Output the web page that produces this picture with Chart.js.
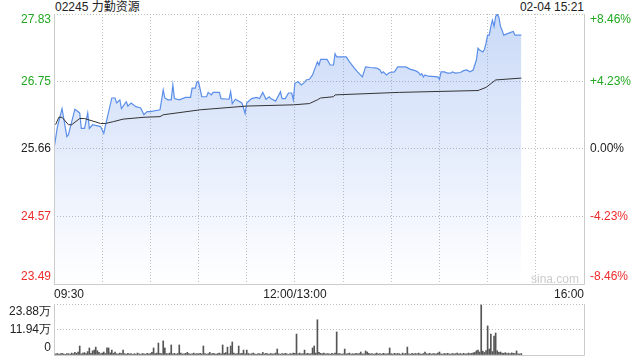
<!DOCTYPE html>
<html>
<head>
<meta charset="utf-8">
<script src="https://cdn.jsdelivr.net/npm/chart.js@4"></script>
<style>
  body { margin: 0; background: #fff; font-family: "Liberation Sans", Arial, "Noto Sans CJK SC", sans-serif; }
  #wrap { position: relative; width: 640px; height: 360px; overflow: hidden; }
  canvas { position: absolute; left: 0; }
  .txt { position: absolute; font-size: 12px; color: #222; white-space: nowrap; line-height: 14px; }
</style>
</head>
<body>
<div id="wrap">
  <div class="txt" style="left:55px;top:0px;">02245 力勤资源</div>
  <div class="txt" style="right:56px;top:0px;">02-04 15:21</div>
  <canvas id="price" width="640" height="300" style="top:0"></canvas>
  <canvas id="volume" width="640" height="60" style="top:300px"></canvas>
  <div class="txt" style="left:531px;top:272px;color:#ccc;">sina.com</div>
</div>
<script>
// session minutes from 09:30 (lunch break removed, 330 minutes in total)
const timeTicks = [0, 150, 330];
const timeLabels = ["09:30", "12:00/13:00", "16:00"];

const priceTicks = [23.49, 24.57, 25.66, 26.75, 27.83];
const pctLabels = ["-8.46%", "-4.23%", "0.00%", "+4.23%", "+8.46%"];
const volTicks = [0, 11.94, 23.88];
const volLabels = ["0", "11.94万", "23.88万"];

const priceMinutes = [0, 2, 5, 8, 9, 13, 16, 17, 19, 21, 22, 24, 29, 31, 32, 36, 38, 39, 41, 42,
  45, 46, 48, 51, 54, 56, 58, 60, 66, 68, 69, 71, 73, 74, 75, 78, 82, 85, 86, 88,
  89, 90, 92, 95, 96, 98, 99, 103, 104, 109, 110, 111, 113, 117, 119, 120, 123, 126, 128, 130,
  132, 134, 135, 138, 141, 142, 144, 146, 148, 149, 150, 152, 154, 156, 157, 159, 161, 164, 165, 166,
  170, 172, 174, 175, 176, 182, 184, 187, 189, 192, 194, 197, 201, 203, 204, 205, 207, 209, 212, 214,
  219, 222, 225, 227, 228, 229, 230, 231, 233, 239, 240, 241, 243, 245, 247, 248, 250, 253, 255, 257,
  259, 261, 263, 264, 265, 267, 268, 269, 270, 271, 272, 273, 274, 275, 276, 277, 278, 279, 280, 282,
  284, 286, 287, 291];
const priceValues = [25.66, 26.00, 26.31, 25.86, 25.89, 26.30, 26.24, 25.99, 25.99, 26.24, 25.99, 26.05, 26.02, 25.91, 26.03, 26.48, 26.48, 26.40, 26.45, 26.31,
  26.42, 26.35, 26.40, 26.34, 26.32, 26.21, 26.26, 26.26, 26.29, 26.61, 26.48, 26.45, 26.45, 26.69, 26.47, 26.45, 26.49, 26.49, 26.64, 26.64,
  26.74, 26.74, 26.50, 26.50, 26.57, 26.53, 26.57, 26.57, 26.47, 26.46, 26.58, 26.39, 26.46, 26.40, 26.23, 26.40, 26.47, 26.49, 26.47, 26.57,
  26.46, 26.50, 26.47, 26.43, 26.58, 26.47, 26.47, 26.56, 26.56, 26.45, 26.72, 26.74, 26.69, 26.73, 26.77, 26.78, 26.85, 27.06, 27.01, 27.10,
  27.10, 27.01, 27.01, 27.19, 27.14, 27.14, 27.06, 26.96, 26.90, 26.82, 26.98, 26.97, 26.96, 26.93, 26.88, 26.90, 26.85, 26.89, 26.90, 26.98,
  26.98, 26.94, 26.92, 26.89, 26.85, 26.87, 26.82, 26.85, 26.83, 26.82, 26.78, 26.90, 26.90, 26.88, 26.88, 26.90, 26.88, 26.89, 26.92, 26.93,
  26.90, 26.93, 27.09, 27.28, 27.25, 27.22, 27.26, 27.36, 27.49, 27.49, 27.63, 27.73, 27.63, 27.79, 27.83, 27.78, 27.63, 27.57, 27.49, 27.51,
  27.53, 27.55, 27.49, 27.49];

const avgMinutes = [1, 3, 5, 9, 11, 16, 19, 29, 32, 37, 43, 56, 66, 68, 91, 120, 149, 159, 164, 166, 174, 175, 215, 264, 265, 269, 275, 291];
const avgValues = [26.05, 26.17, 26.17, 26.05, 26.05, 26.15, 26.15, 26.07, 26.07, 26.10, 26.14, 26.17, 26.18, 26.21, 26.29, 26.35, 26.37, 26.39, 26.45, 26.48,
  26.50, 26.53, 26.57, 26.60, 26.61, 26.65, 26.77, 26.80];

// volume per minute, in 万 shares, minute 0..291
const volumes = [
  0.9, 0.5, 0.7, 0.4, 0.6, 0.8, 0.5, 0.3, 0.7, 0.6,
  0.4, 0.9, 0.6, 1.2, 0.8, 1.4, 4.2, 0.5, 0.9, 1.1,
  0.7, 1.6, 3.3, 0.8, 1.9, 2.3, 3.7, 2.0, 1.2, 0.6,
  0.9, 1.4, 0.7, 3.3, 3.3, 1.0, 2.3, 0.8, 1.4, 0.6,
  0.5, 0.9, 0.7, 2.3, 0.6, 0.4, 0.8, 0.5, 0.7, 0.3,
  0.6, 0.4, 0.9, 0.5, 0.3, 0.7, 0.6, 0.4, 0.8, 0.5,
  0.7, 1.2, 3.3, 0.6, 0.9, 5.6, 0.8, 0.6, 6.6, 3.3,
  0.7, 0.5, 0.9, 4.7, 0.6, 0.8, 0.4, 0.7, 4.7, 0.9,
  0.5, 0.6, 0.8, 1.2, 0.7, 0.4, 0.6, 0.9, 0.5, 0.7,
  0.6, 0.8, 0.5, 4.2, 0.7, 0.4, 0.6, 1.2, 0.5, 0.8,
  0.6, 0.4, 0.7, 0.9, 0.5, 4.7, 0.8, 1.1, 3.7, 0.6,
  4.2, 6.1, 0.9, 0.5, 0.7, 4.2, 0.6, 0.8, 2.3, 0.5,
  2.3, 0.7, 0.4, 0.6, 0.9, 0.5, 0.3, 0.7, 0.6, 0.4,
  1.2, 0.5, 0.8, 0.6, 0.4, 0.7, 0.5, 0.6, 0.9, 2.8,
  0.6, 0.4, 0.7, 0.5, 0.8, 0.6, 0.3, 0.7, 0.5, 0.9,
  0.8, 9.8, 0.6, 0.9, 0.5, 0.7, 2.3, 0.6, 0.8, 0.5,
  0.7, 3.3, 4.2, 0.9, 16.5, 1.2, 0.8, 0.6, 0.9, 0.5,
  0.7, 0.6, 0.4, 0.8, 0.5, 0.9, 10.8, 0.6, 0.7, 0.4,
  0.6, 2.8, 0.5, 0.7, 0.9, 0.4, 0.6, 0.5, 0.8, 0.6,
  0.7, 1.4, 0.5, 0.6, 1.9, 1.4, 0.8, 0.5, 0.7, 0.4,
  0.6, 0.9, 0.5, 0.7, 0.4, 0.8, 0.6, 0.5, 0.7, 3.3,
  0.6, 0.4, 0.8, 0.5, 0.7, 0.6, 0.3, 0.9, 0.5, 0.7,
  3.7, 0.6, 0.4, 0.8, 0.5, 0.7, 0.6, 0.9, 0.5, 0.4,
  0.7, 1.4, 0.6, 0.5, 0.8, 0.4, 0.7, 0.6, 0.5, 0.9,
  1.4, 0.6, 0.4, 0.7, 0.5, 0.8, 0.6, 0.4, 0.7, 0.5,
  0.6, 0.9, 0.5, 0.7, 0.4, 0.8, 0.6, 0.5, 0.9, 0.7,
  0.8, 1.0, 1.2, 2.0, 2.3, 1.4, 23.4, 1.8, 1.2, 2.1,
  13.6, 2.8, 9.8, 1.6, 8.9, 10.3, 2.0, 1.3, 1.4, 0.9,
  0.8, 1.1, 0.7, 0.9, 0.6, 1.0, 0.8, 0.7, 1.9, 0.6,
  0.5, 0.7
];

const GREEN = "#22a822";
const RED = "#ee2b2b";
const FRAME = "#cccccc";
const GRID = "#c0c0c0";
const FONT = '12px "Liberation Sans", Arial, sans-serif';

const tickColor = i => (i > 2 ? GREEN : i < 2 ? RED : "#222");

// frame round the plot area plus the y labels on both sides
const sideLabels = (ticks, left, right, colorFn, topShift) => ({
  id: "sideLabels",
  afterDraw(chart) {
    const { ctx, chartArea: a } = chart;
    const y = chart.scales.y;
    ctx.save();
    ctx.strokeStyle = FRAME;
    ctx.lineWidth = 1;
    ctx.beginPath();
    ctx.moveTo(a.left + 0.5, a.top);
    ctx.lineTo(a.left + 0.5, a.bottom + 0.5);
    ctx.lineTo(a.right + 0.5, a.bottom + 0.5);
    ctx.lineTo(a.right + 0.5, a.top);
    ctx.stroke();
    ctx.font = FONT;
    ctx.textBaseline = "middle";
    ticks.forEach((v, i) => {
      let py = y.getPixelForValue(v);
      py = Math.min(Math.max(py, a.top + topShift), a.bottom - 7);
      ctx.fillStyle = colorFn(i);
      ctx.textAlign = "right";
      ctx.fillText(left[i], a.left - 3, py);
      if (right) {
        ctx.textAlign = "left";
        ctx.fillText(right[i], a.right + 6, py);
      }
    });
    ctx.restore();
  },
});

const priceChart = new Chart(document.getElementById("price"), {
  type: "line",
  data: {
    datasets: [
      {
        data: avgMinutes.map((m, i) => ({ x: m, y: avgValues[i] })),
        borderColor: "#333",
        borderWidth: 1,
        pointRadius: 0,
        fill: false,
        order: 0,
      },
      {
        data: priceMinutes.map((m, i) => ({ x: m, y: priceValues[i] })),
        borderColor: "#5b8fe9",
        borderWidth: 1.2,
        pointRadius: 0,
        fill: "start",
        backgroundColor: ctx => {
          const a = ctx.chart.chartArea;
          if (!a) return "rgba(70,125,230,0.2)";
          const g = ctx.chart.ctx.createLinearGradient(0, a.top, 0, a.bottom);
          g.addColorStop(0, "rgba(70,125,230,0.29)");
          g.addColorStop(1, "rgba(70,125,230,0)");
          return g;
        },
        order: 1,
      },
    ],
  },
  options: {
    responsive: false,
    animation: false,
    layout: { padding: { top: 14, right: 56, left: 0, bottom: 0 } },
    plugins: { legend: { display: false }, tooltip: { enabled: false } },
    scales: {
      x: {
        type: "linear",
        min: 0,
        max: 330,
        afterBuildTicks: s => {
          s.ticks = [0, 30, 60, 90, 120, 150, 180, 210, 240, 270, 300, 330].map(v => ({ value: v }));
        },
        afterFit: s => { s.height = 16; },
        ticks: {
          autoSkip: false,
          maxRotation: 0,
          align: "inner",
          padding: 3,
          color: "#222",
          font: { family: '"Liberation Sans", Arial, sans-serif', size: 12 },
          callback: v => {
            const i = timeTicks.indexOf(v);
            return i >= 0 ? timeLabels[i] : "";
          },
        },
        grid: { color: GRID, drawTicks: false, lineWidth: 1 },
        border: { display: false, dash: [1, 2] },
      },
      y: {
        min: priceTicks[0],
        max: priceTicks[priceTicks.length - 1],
        afterBuildTicks: s => { s.ticks = priceTicks.map(v => ({ value: v })); },
        afterFit: s => { s.width = 54; },
        ticks: { display: false },
        grid: { color: GRID, drawTicks: false },
        border: { display: false, dash: [1, 2] },
      },
    },
  },
  plugins: [sideLabels(priceTicks, priceTicks.map(v => v.toFixed(2)), pctLabels, tickColor, 6)],
});

const volumeChart = new Chart(document.getElementById("volume"), {
  type: "bar",
  data: {
    datasets: [
      {
        data: volumes.map((v, i) => ({ x: i, y: v })),
        backgroundColor: "#555",
        barThickness: 1,
      },
    ],
  },
  options: {
    responsive: false,
    animation: false,
    layout: { padding: { top: 4, right: 56, left: 0, bottom: 5 } },
    plugins: { legend: { display: false }, tooltip: { enabled: false } },
    scales: {
      x: { type: "linear", min: 0, max: 330, offset: false, display: false },
      y: {
        min: 0,
        max: volTicks[2],
        afterBuildTicks: s => { s.ticks = volTicks.map(v => ({ value: v })); },
        afterFit: s => { s.width = 54; },
        ticks: { display: false },
        grid: { color: GRID, drawTicks: false },
        border: { display: false, dash: [1, 2] },
      },
    },
  },
  plugins: [sideLabels(volTicks, volLabels, null, () => "#222", 8)],
});
</script>
</body>
</html>
